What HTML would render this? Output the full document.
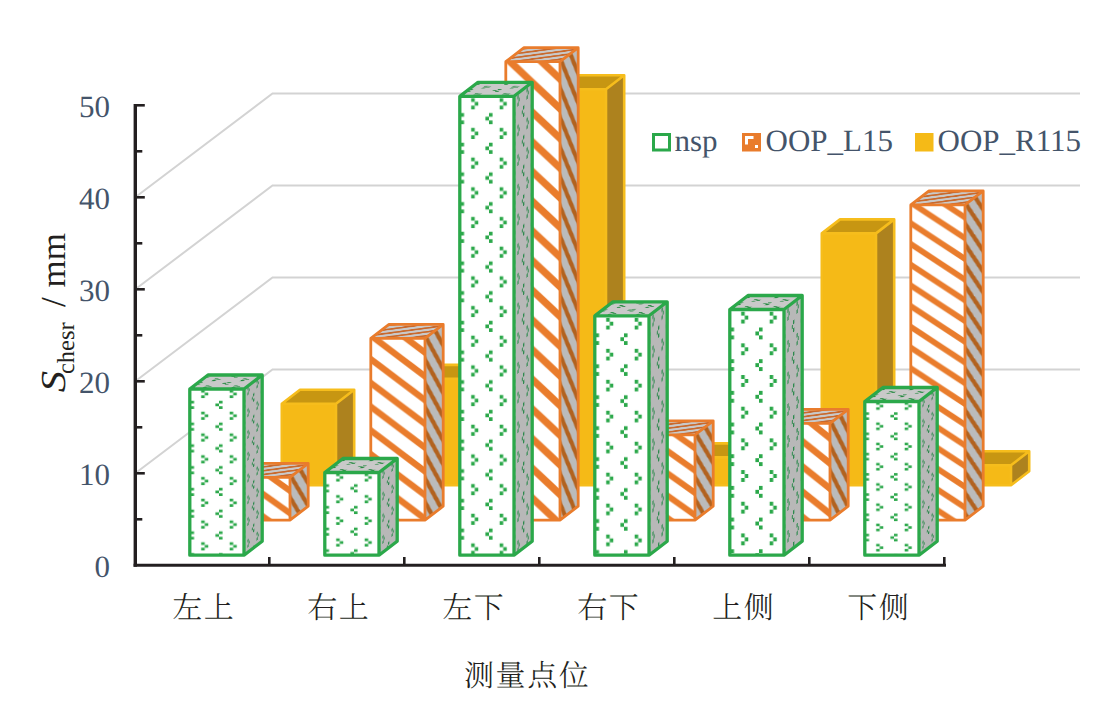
<!DOCTYPE html>
<html><head><meta charset="utf-8"><title>chart</title>
<style>html,body{margin:0;padding:0;background:#fff;width:1108px;height:706px;overflow:hidden}svg{display:block}text{text-rendering:geometricPrecision;-webkit-font-smoothing:antialiased}</style>
</head><body>
<svg width="1108" height="706" viewBox="0 0 1108 706"><defs><pattern id="p1_0f" patternUnits="userSpaceOnUse" width="8" height="8" patternTransform="matrix(3.94 0 0 2.81 236.8 479.1)"><rect width="8" height="8" fill="#FFFFFF"/><polygon points="-8,0 -5.3,0 2.7,8 0,8" fill="#E97C2C"/><polygon points="0,0 2.7,0 10.7,8 8,8" fill="#E97C2C"/></pattern><pattern id="p1_0s" patternUnits="userSpaceOnUse" width="8" height="8" patternTransform="matrix(1.14 -0.88 0 2.81 290 479.1)"><rect width="8" height="8" fill="#BBBBBB"/><polygon points="-8,0 -5,0 3,8 0,8" fill="#B2621F"/><polygon points="0,0 3,0 11,8 8,8" fill="#B2621F"/></pattern><pattern id="p1_0t" patternUnits="userSpaceOnUse" width="8" height="8" patternTransform="matrix(3.56 0 0.76 -0.58 236.5 477.3)"><rect width="8" height="8" fill="#C9C9C9"/><polygon points="-8,0 -4.4,0 3.6,8 0,8" fill="#C9692C"/><polygon points="0,0 3.6,0 11.6,8 8,8" fill="#C9692C"/></pattern><pattern id="p1_1f" patternUnits="userSpaceOnUse" width="8" height="8" patternTransform="matrix(3.94 0 0 2.97 371.8 340.2)"><rect width="8" height="8" fill="#FFFFFF"/><polygon points="-8,0 -5.3,0 2.7,8 0,8" fill="#E97C2C"/><polygon points="0,0 2.7,0 10.7,8 8,8" fill="#E97C2C"/></pattern><pattern id="p1_1s" patternUnits="userSpaceOnUse" width="8" height="8" patternTransform="matrix(1.14 -0.88 0 2.97 425 340.2)"><rect width="8" height="8" fill="#BBBBBB"/><polygon points="-8,0 -5,0 3,8 0,8" fill="#B2621F"/><polygon points="0,0 3,0 11,8 8,8" fill="#B2621F"/></pattern><pattern id="p1_1t" patternUnits="userSpaceOnUse" width="8" height="8" patternTransform="matrix(3.56 0 0.76 -0.58 371.5 338.4)"><rect width="8" height="8" fill="#C9C9C9"/><polygon points="-8,0 -4.4,0 3.6,8 0,8" fill="#C9692C"/><polygon points="0,0 3.6,0 11.6,8 8,8" fill="#C9692C"/></pattern><pattern id="p1_2f" patternUnits="userSpaceOnUse" width="8" height="8" patternTransform="matrix(3.94 0 0 3.71 506.8 63.5)"><rect width="8" height="8" fill="#FFFFFF"/><polygon points="-8,0 -5.3,0 2.7,8 0,8" fill="#E97C2C"/><polygon points="0,0 2.7,0 10.7,8 8,8" fill="#E97C2C"/></pattern><pattern id="p1_2s" patternUnits="userSpaceOnUse" width="8" height="8" patternTransform="matrix(1.14 -0.88 0 3.71 560 63.5)"><rect width="8" height="8" fill="#BBBBBB"/><polygon points="-8,0 -5,0 3,8 0,8" fill="#B2621F"/><polygon points="0,0 3,0 11,8 8,8" fill="#B2621F"/></pattern><pattern id="p1_2t" patternUnits="userSpaceOnUse" width="8" height="8" patternTransform="matrix(3.56 0 0.76 -0.58 506.5 61.7)"><rect width="8" height="8" fill="#C9C9C9"/><polygon points="-8,0 -4.4,0 3.6,8 0,8" fill="#C9692C"/><polygon points="0,0 3.6,0 11.6,8 8,8" fill="#C9692C"/></pattern><pattern id="p1_3f" patternUnits="userSpaceOnUse" width="8" height="8" patternTransform="matrix(3.94 0 0 2.79 641.8 436.6)"><rect width="8" height="8" fill="#FFFFFF"/><polygon points="-8,0 -5.3,0 2.7,8 0,8" fill="#E97C2C"/><polygon points="0,0 2.7,0 10.7,8 8,8" fill="#E97C2C"/></pattern><pattern id="p1_3s" patternUnits="userSpaceOnUse" width="8" height="8" patternTransform="matrix(1.14 -0.88 0 2.79 695 436.6)"><rect width="8" height="8" fill="#BBBBBB"/><polygon points="-8,0 -5,0 3,8 0,8" fill="#B2621F"/><polygon points="0,0 3,0 11,8 8,8" fill="#B2621F"/></pattern><pattern id="p1_3t" patternUnits="userSpaceOnUse" width="8" height="8" patternTransform="matrix(3.56 0 0.76 -0.58 641.5 434.8)"><rect width="8" height="8" fill="#C9C9C9"/><polygon points="-8,0 -4.4,0 3.6,8 0,8" fill="#C9692C"/><polygon points="0,0 3.6,0 11.6,8 8,8" fill="#C9692C"/></pattern><pattern id="p1_4f" patternUnits="userSpaceOnUse" width="8" height="8" patternTransform="matrix(3.94 0 0 3.15 776.8 425.1)"><rect width="8" height="8" fill="#FFFFFF"/><polygon points="-8,0 -5.3,0 2.7,8 0,8" fill="#E97C2C"/><polygon points="0,0 2.7,0 10.7,8 8,8" fill="#E97C2C"/></pattern><pattern id="p1_4s" patternUnits="userSpaceOnUse" width="8" height="8" patternTransform="matrix(1.14 -0.88 0 3.15 830 425.1)"><rect width="8" height="8" fill="#BBBBBB"/><polygon points="-8,0 -5,0 3,8 0,8" fill="#B2621F"/><polygon points="0,0 3,0 11,8 8,8" fill="#B2621F"/></pattern><pattern id="p1_4t" patternUnits="userSpaceOnUse" width="8" height="8" patternTransform="matrix(3.56 0 0.76 -0.58 776.5 423.3)"><rect width="8" height="8" fill="#C9C9C9"/><polygon points="-8,0 -4.4,0 3.6,8 0,8" fill="#C9692C"/><polygon points="0,0 3.6,0 11.6,8 8,8" fill="#C9692C"/></pattern><pattern id="p1_5f" patternUnits="userSpaceOnUse" width="8" height="8" patternTransform="matrix(3.94 0 0 2.59 911.8 206.7)"><rect width="8" height="8" fill="#FFFFFF"/><polygon points="-8,0 -5.3,0 2.7,8 0,8" fill="#E97C2C"/><polygon points="0,0 2.7,0 10.7,8 8,8" fill="#E97C2C"/></pattern><pattern id="p1_5s" patternUnits="userSpaceOnUse" width="8" height="8" patternTransform="matrix(1.14 -0.88 0 2.59 965 206.7)"><rect width="8" height="8" fill="#BBBBBB"/><polygon points="-8,0 -5,0 3,8 0,8" fill="#B2621F"/><polygon points="0,0 3,0 11,8 8,8" fill="#B2621F"/></pattern><pattern id="p1_5t" patternUnits="userSpaceOnUse" width="8" height="8" patternTransform="matrix(3.56 0 0.76 -0.58 911.5 204.9)"><rect width="8" height="8" fill="#C9C9C9"/><polygon points="-8,0 -4.4,0 3.6,8 0,8" fill="#C9692C"/><polygon points="0,0 3.6,0 11.6,8 8,8" fill="#C9692C"/></pattern><pattern id="p0_0f" patternUnits="userSpaceOnUse" width="8" height="8" patternTransform="matrix(3.56 0 0 2.72 190.5 387.2)"><rect width="8" height="8" fill="#FFFFFF"/><rect x="3" y="1" width="1" height="1" fill="#2BA84A"/><rect x="4" y="2" width="1" height="1" fill="#2BA84A"/><rect x="3" y="3" width="1" height="1" fill="#2BA84A"/><rect x="0" y="5" width="1" height="1" fill="#2BA84A"/><rect x="7" y="6" width="1" height="1" fill="#2BA84A"/><rect x="0" y="7" width="1" height="1" fill="#2BA84A"/></pattern><pattern id="p0_0s" patternUnits="userSpaceOnUse" width="8" height="8" patternTransform="matrix(1.14 -0.88 0 2.72 244 387.2)"><rect width="8" height="8" fill="#B8B8B8"/><rect x="3" y="1" width="1" height="1" fill="#2E8A4E"/><rect x="4" y="2" width="1" height="1" fill="#2E8A4E"/><rect x="3" y="3" width="1" height="1" fill="#2E8A4E"/><rect x="0" y="5" width="1" height="1" fill="#2E8A4E"/><rect x="7" y="6" width="1" height="1" fill="#2E8A4E"/><rect x="0" y="7" width="1" height="1" fill="#2E8A4E"/></pattern><pattern id="p0_0t" patternUnits="userSpaceOnUse" width="8" height="8" patternTransform="matrix(3.56 0 1.14 -0.88 190.5 389)"><rect width="8" height="8" fill="#C9C9C9"/><rect x="3" y="1" width="1" height="1" fill="#23893F"/><rect x="4" y="2" width="1" height="1" fill="#23893F"/><rect x="3" y="3" width="1" height="1" fill="#23893F"/><rect x="0" y="5" width="1" height="1" fill="#23893F"/><rect x="7" y="6" width="1" height="1" fill="#23893F"/><rect x="0" y="7" width="1" height="1" fill="#23893F"/></pattern><pattern id="p0_1f" patternUnits="userSpaceOnUse" width="8" height="8" patternTransform="matrix(3.56 0 0 2.71 325.5 470.7)"><rect width="8" height="8" fill="#FFFFFF"/><rect x="3" y="1" width="1" height="1" fill="#2BA84A"/><rect x="4" y="2" width="1" height="1" fill="#2BA84A"/><rect x="3" y="3" width="1" height="1" fill="#2BA84A"/><rect x="0" y="5" width="1" height="1" fill="#2BA84A"/><rect x="7" y="6" width="1" height="1" fill="#2BA84A"/><rect x="0" y="7" width="1" height="1" fill="#2BA84A"/></pattern><pattern id="p0_1s" patternUnits="userSpaceOnUse" width="8" height="8" patternTransform="matrix(1.14 -0.88 0 2.71 379 470.7)"><rect width="8" height="8" fill="#B8B8B8"/><rect x="3" y="1" width="1" height="1" fill="#2E8A4E"/><rect x="4" y="2" width="1" height="1" fill="#2E8A4E"/><rect x="3" y="3" width="1" height="1" fill="#2E8A4E"/><rect x="0" y="5" width="1" height="1" fill="#2E8A4E"/><rect x="7" y="6" width="1" height="1" fill="#2E8A4E"/><rect x="0" y="7" width="1" height="1" fill="#2E8A4E"/></pattern><pattern id="p0_1t" patternUnits="userSpaceOnUse" width="8" height="8" patternTransform="matrix(3.56 0 1.14 -0.88 325.5 472.5)"><rect width="8" height="8" fill="#C9C9C9"/><rect x="3" y="1" width="1" height="1" fill="#23893F"/><rect x="4" y="2" width="1" height="1" fill="#23893F"/><rect x="3" y="3" width="1" height="1" fill="#23893F"/><rect x="0" y="5" width="1" height="1" fill="#23893F"/><rect x="7" y="6" width="1" height="1" fill="#23893F"/><rect x="0" y="7" width="1" height="1" fill="#23893F"/></pattern><pattern id="p0_2f" patternUnits="userSpaceOnUse" width="8" height="8" patternTransform="matrix(3.56 0 0 3.71 460.5 94.5)"><rect width="8" height="8" fill="#FFFFFF"/><rect x="3" y="1" width="1" height="1" fill="#2BA84A"/><rect x="4" y="2" width="1" height="1" fill="#2BA84A"/><rect x="3" y="3" width="1" height="1" fill="#2BA84A"/><rect x="0" y="5" width="1" height="1" fill="#2BA84A"/><rect x="7" y="6" width="1" height="1" fill="#2BA84A"/><rect x="0" y="7" width="1" height="1" fill="#2BA84A"/></pattern><pattern id="p0_2s" patternUnits="userSpaceOnUse" width="8" height="8" patternTransform="matrix(1.14 -0.88 0 3.71 514 94.5)"><rect width="8" height="8" fill="#B8B8B8"/><rect x="3" y="1" width="1" height="1" fill="#2E8A4E"/><rect x="4" y="2" width="1" height="1" fill="#2E8A4E"/><rect x="3" y="3" width="1" height="1" fill="#2E8A4E"/><rect x="0" y="5" width="1" height="1" fill="#2E8A4E"/><rect x="7" y="6" width="1" height="1" fill="#2E8A4E"/><rect x="0" y="7" width="1" height="1" fill="#2E8A4E"/></pattern><pattern id="p0_2t" patternUnits="userSpaceOnUse" width="8" height="8" patternTransform="matrix(3.56 0 1.14 -0.88 460.5 96.3)"><rect width="8" height="8" fill="#C9C9C9"/><rect x="3" y="1" width="1" height="1" fill="#23893F"/><rect x="4" y="2" width="1" height="1" fill="#23893F"/><rect x="3" y="3" width="1" height="1" fill="#23893F"/><rect x="0" y="5" width="1" height="1" fill="#23893F"/><rect x="7" y="6" width="1" height="1" fill="#23893F"/><rect x="0" y="7" width="1" height="1" fill="#23893F"/></pattern><pattern id="p0_3f" patternUnits="userSpaceOnUse" width="8" height="8" patternTransform="matrix(3.56 0 0 3.87 595.5 314)"><rect width="8" height="8" fill="#FFFFFF"/><rect x="3" y="1" width="1" height="1" fill="#2BA84A"/><rect x="4" y="2" width="1" height="1" fill="#2BA84A"/><rect x="3" y="3" width="1" height="1" fill="#2BA84A"/><rect x="0" y="5" width="1" height="1" fill="#2BA84A"/><rect x="7" y="6" width="1" height="1" fill="#2BA84A"/><rect x="0" y="7" width="1" height="1" fill="#2BA84A"/></pattern><pattern id="p0_3s" patternUnits="userSpaceOnUse" width="8" height="8" patternTransform="matrix(1.14 -0.88 0 3.87 649 314)"><rect width="8" height="8" fill="#B8B8B8"/><rect x="3" y="1" width="1" height="1" fill="#2E8A4E"/><rect x="4" y="2" width="1" height="1" fill="#2E8A4E"/><rect x="3" y="3" width="1" height="1" fill="#2E8A4E"/><rect x="0" y="5" width="1" height="1" fill="#2E8A4E"/><rect x="7" y="6" width="1" height="1" fill="#2E8A4E"/><rect x="0" y="7" width="1" height="1" fill="#2E8A4E"/></pattern><pattern id="p0_3t" patternUnits="userSpaceOnUse" width="8" height="8" patternTransform="matrix(3.56 0 1.14 -0.88 595.5 315.8)"><rect width="8" height="8" fill="#C9C9C9"/><rect x="3" y="1" width="1" height="1" fill="#23893F"/><rect x="4" y="2" width="1" height="1" fill="#23893F"/><rect x="3" y="3" width="1" height="1" fill="#23893F"/><rect x="0" y="5" width="1" height="1" fill="#23893F"/><rect x="7" y="6" width="1" height="1" fill="#23893F"/><rect x="0" y="7" width="1" height="1" fill="#23893F"/></pattern><pattern id="p0_4f" patternUnits="userSpaceOnUse" width="8" height="8" patternTransform="matrix(3.56 0 0 3.96 730.5 307.7)"><rect width="8" height="8" fill="#FFFFFF"/><rect x="3" y="1" width="1" height="1" fill="#2BA84A"/><rect x="4" y="2" width="1" height="1" fill="#2BA84A"/><rect x="3" y="3" width="1" height="1" fill="#2BA84A"/><rect x="0" y="5" width="1" height="1" fill="#2BA84A"/><rect x="7" y="6" width="1" height="1" fill="#2BA84A"/><rect x="0" y="7" width="1" height="1" fill="#2BA84A"/></pattern><pattern id="p0_4s" patternUnits="userSpaceOnUse" width="8" height="8" patternTransform="matrix(1.14 -0.88 0 3.96 784 307.7)"><rect width="8" height="8" fill="#B8B8B8"/><rect x="3" y="1" width="1" height="1" fill="#2E8A4E"/><rect x="4" y="2" width="1" height="1" fill="#2E8A4E"/><rect x="3" y="3" width="1" height="1" fill="#2E8A4E"/><rect x="0" y="5" width="1" height="1" fill="#2E8A4E"/><rect x="7" y="6" width="1" height="1" fill="#2E8A4E"/><rect x="0" y="7" width="1" height="1" fill="#2E8A4E"/></pattern><pattern id="p0_4t" patternUnits="userSpaceOnUse" width="8" height="8" patternTransform="matrix(3.56 0 1.14 -0.88 730.5 309.5)"><rect width="8" height="8" fill="#C9C9C9"/><rect x="3" y="1" width="1" height="1" fill="#23893F"/><rect x="4" y="2" width="1" height="1" fill="#23893F"/><rect x="3" y="3" width="1" height="1" fill="#23893F"/><rect x="0" y="5" width="1" height="1" fill="#23893F"/><rect x="7" y="6" width="1" height="1" fill="#23893F"/><rect x="0" y="7" width="1" height="1" fill="#23893F"/></pattern><pattern id="p0_5f" patternUnits="userSpaceOnUse" width="8" height="8" patternTransform="matrix(3.56 0 0 2.53 865.5 399.7)"><rect width="8" height="8" fill="#FFFFFF"/><rect x="3" y="1" width="1" height="1" fill="#2BA84A"/><rect x="4" y="2" width="1" height="1" fill="#2BA84A"/><rect x="3" y="3" width="1" height="1" fill="#2BA84A"/><rect x="0" y="5" width="1" height="1" fill="#2BA84A"/><rect x="7" y="6" width="1" height="1" fill="#2BA84A"/><rect x="0" y="7" width="1" height="1" fill="#2BA84A"/></pattern><pattern id="p0_5s" patternUnits="userSpaceOnUse" width="8" height="8" patternTransform="matrix(1.14 -0.88 0 2.53 919 399.7)"><rect width="8" height="8" fill="#B8B8B8"/><rect x="3" y="1" width="1" height="1" fill="#2E8A4E"/><rect x="4" y="2" width="1" height="1" fill="#2E8A4E"/><rect x="3" y="3" width="1" height="1" fill="#2E8A4E"/><rect x="0" y="5" width="1" height="1" fill="#2E8A4E"/><rect x="7" y="6" width="1" height="1" fill="#2E8A4E"/><rect x="0" y="7" width="1" height="1" fill="#2E8A4E"/></pattern><pattern id="p0_5t" patternUnits="userSpaceOnUse" width="8" height="8" patternTransform="matrix(3.56 0 1.14 -0.88 865.5 401.5)"><rect width="8" height="8" fill="#C9C9C9"/><rect x="3" y="1" width="1" height="1" fill="#23893F"/><rect x="4" y="2" width="1" height="1" fill="#23893F"/><rect x="3" y="3" width="1" height="1" fill="#23893F"/><rect x="0" y="5" width="1" height="1" fill="#23893F"/><rect x="7" y="6" width="1" height="1" fill="#23893F"/><rect x="0" y="7" width="1" height="1" fill="#23893F"/></pattern></defs><rect width="1108" height="706" fill="#fff"/><polyline points="135.3,473.3 272.5,369.5 1080,369.5" fill="none" stroke="#D3D3D3" stroke-width="2"/>
<polyline points="135.3,381.3 272.5,277.5 1080,277.5" fill="none" stroke="#D3D3D3" stroke-width="2"/>
<polyline points="135.3,289.3 272.5,185.5 1080,185.5" fill="none" stroke="#D3D3D3" stroke-width="2"/>
<polyline points="135.3,197.3 272.5,93.5 1080,93.5" fill="none" stroke="#D3D3D3" stroke-width="2"/>
<polygon points="281.8,403.8 336,403.8 354.2,389.8 300,389.8" fill="#C79612"/><polygon points="336,403.8 354.2,389.8 354.2,471.2 336,485.2" fill="#AD821E"/><polygon points="281.8,403.8 336,403.8 336,485.2 281.8,485.2" fill="#F5BA17"/><path d="M281.8,403.8 H336 V485.2 H281.8 Z M281.8,403.8 L300,389.8 L354.2,389.8 L354.2,471.2 L336,485.2 M336,403.8 L354.2,389.8" fill="none" stroke="#F6BD1C" stroke-width="2.6" stroke-linejoin="round"/>
<polygon points="416.8,378.9 471,378.9 489.2,364.9 435,364.9" fill="#C79612"/><polygon points="471,378.9 489.2,364.9 489.2,471.2 471,485.2" fill="#AD821E"/><polygon points="416.8,378.9 471,378.9 471,485.2 416.8,485.2" fill="#F5BA17"/><path d="M416.8,378.9 H471 V485.2 H416.8 Z M416.8,378.9 L435,364.9 L489.2,364.9 L489.2,471.2 L471,485.2 M471,378.9 L489.2,364.9" fill="none" stroke="#F6BD1C" stroke-width="2.6" stroke-linejoin="round"/>
<polygon points="551.8,89.2 606,89.2 624.2,75.2 570,75.2" fill="#C79612"/><polygon points="606,89.2 624.2,75.2 624.2,471.2 606,485.2" fill="#AD821E"/><polygon points="551.8,89.2 606,89.2 606,485.2 551.8,485.2" fill="#F5BA17"/><path d="M551.8,89.2 H606 V485.2 H551.8 Z M551.8,89.2 L570,75.2 L624.2,75.2 L624.2,471.2 L606,485.2 M606,89.2 L624.2,75.2" fill="none" stroke="#F6BD1C" stroke-width="2.6" stroke-linejoin="round"/>
<polygon points="686.8,457.4 741,457.4 759.2,443.4 705,443.4" fill="#C79612"/><polygon points="741,457.4 759.2,443.4 759.2,471.2 741,485.2" fill="#AD821E"/><polygon points="686.8,457.4 741,457.4 741,485.2 686.8,485.2" fill="#F5BA17"/><path d="M686.8,457.4 H741 V485.2 H686.8 Z M686.8,457.4 L705,443.4 L759.2,443.4 L759.2,471.2 L741,485.2 M741,457.4 L759.2,443.4" fill="none" stroke="#F6BD1C" stroke-width="2.6" stroke-linejoin="round"/>
<polygon points="821.8,233.4 876,233.4 894.2,219.4 840,219.4" fill="#C79612"/><polygon points="876,233.4 894.2,219.4 894.2,471.2 876,485.2" fill="#AD821E"/><polygon points="821.8,233.4 876,233.4 876,485.2 821.8,485.2" fill="#F5BA17"/><path d="M821.8,233.4 H876 V485.2 H821.8 Z M821.8,233.4 L840,219.4 L894.2,219.4 L894.2,471.2 L876,485.2 M876,233.4 L894.2,219.4" fill="none" stroke="#F6BD1C" stroke-width="2.6" stroke-linejoin="round"/>
<polygon points="956.8,465.2 1011,465.2 1029.2,451.2 975,451.2" fill="#C79612"/><polygon points="1011,465.2 1029.2,451.2 1029.2,471.2 1011,485.2" fill="#AD821E"/><polygon points="956.8,465.2 1011,465.2 1011,485.2 956.8,485.2" fill="#F5BA17"/><path d="M956.8,465.2 H1011 V485.2 H956.8 Z M956.8,465.2 L975,451.2 L1029.2,451.2 L1029.2,471.2 L1011,485.2 M1011,465.2 L1029.2,451.2" fill="none" stroke="#F6BD1C" stroke-width="2.6" stroke-linejoin="round"/>
<polygon points="235.8,477.3 290,477.3 308.2,463.3 254,463.3" fill="url(#p1_0t)"/><polygon points="290,477.3 308.2,463.3 308.2,506.2 290,520.2" fill="url(#p1_0s)"/><polygon points="235.8,477.3 290,477.3 290,520.2 235.8,520.2" fill="url(#p1_0f)"/><path d="M235.8,477.3 H290 V520.2 H235.8 Z M235.8,477.3 L254,463.3 L308.2,463.3 L308.2,506.2 L290,520.2 M290,477.3 L308.2,463.3" fill="none" stroke="#E97C2C" stroke-width="2.8" stroke-linejoin="round"/>
<polygon points="370.8,338.4 425,338.4 443.2,324.4 389,324.4" fill="url(#p1_1t)"/><polygon points="425,338.4 443.2,324.4 443.2,506.2 425,520.2" fill="url(#p1_1s)"/><polygon points="370.8,338.4 425,338.4 425,520.2 370.8,520.2" fill="url(#p1_1f)"/><path d="M370.8,338.4 H425 V520.2 H370.8 Z M370.8,338.4 L389,324.4 L443.2,324.4 L443.2,506.2 L425,520.2 M425,338.4 L443.2,324.4" fill="none" stroke="#E97C2C" stroke-width="2.8" stroke-linejoin="round"/>
<polygon points="505.8,61.7 560,61.7 578.2,47.7 524,47.7" fill="url(#p1_2t)"/><polygon points="560,61.7 578.2,47.7 578.2,506.2 560,520.2" fill="url(#p1_2s)"/><polygon points="505.8,61.7 560,61.7 560,520.2 505.8,520.2" fill="url(#p1_2f)"/><path d="M505.8,61.7 H560 V520.2 H505.8 Z M505.8,61.7 L524,47.7 L578.2,47.7 L578.2,506.2 L560,520.2 M560,61.7 L578.2,47.7" fill="none" stroke="#E97C2C" stroke-width="2.8" stroke-linejoin="round"/>
<polygon points="640.8,434.8 695,434.8 713.2,420.8 659,420.8" fill="url(#p1_3t)"/><polygon points="695,434.8 713.2,420.8 713.2,506.2 695,520.2" fill="url(#p1_3s)"/><polygon points="640.8,434.8 695,434.8 695,520.2 640.8,520.2" fill="url(#p1_3f)"/><path d="M640.8,434.8 H695 V520.2 H640.8 Z M640.8,434.8 L659,420.8 L713.2,420.8 L713.2,506.2 L695,520.2 M695,434.8 L713.2,420.8" fill="none" stroke="#E97C2C" stroke-width="2.8" stroke-linejoin="round"/>
<polygon points="775.8,423.3 830,423.3 848.2,409.3 794,409.3" fill="url(#p1_4t)"/><polygon points="830,423.3 848.2,409.3 848.2,506.2 830,520.2" fill="url(#p1_4s)"/><polygon points="775.8,423.3 830,423.3 830,520.2 775.8,520.2" fill="url(#p1_4f)"/><path d="M775.8,423.3 H830 V520.2 H775.8 Z M775.8,423.3 L794,409.3 L848.2,409.3 L848.2,506.2 L830,520.2 M830,423.3 L848.2,409.3" fill="none" stroke="#E97C2C" stroke-width="2.8" stroke-linejoin="round"/>
<polygon points="910.8,204.9 965,204.9 983.2,190.9 929,190.9" fill="url(#p1_5t)"/><polygon points="965,204.9 983.2,190.9 983.2,506.2 965,520.2" fill="url(#p1_5s)"/><polygon points="910.8,204.9 965,204.9 965,520.2 910.8,520.2" fill="url(#p1_5f)"/><path d="M910.8,204.9 H965 V520.2 H910.8 Z M910.8,204.9 L929,190.9 L983.2,190.9 L983.2,506.2 L965,520.2 M965,204.9 L983.2,190.9" fill="none" stroke="#E97C2C" stroke-width="2.8" stroke-linejoin="round"/>
<polygon points="189.8,389 244,389 262.2,375 208,375" fill="url(#p0_0t)"/><polygon points="244,389 262.2,375 262.2,541.2 244,555.2" fill="url(#p0_0s)"/><polygon points="189.8,389 244,389 244,555.2 189.8,555.2" fill="url(#p0_0f)"/><path d="M189.8,389 H244 V555.2 H189.8 Z M189.8,389 L208,375 L262.2,375 L262.2,541.2 L244,555.2 M244,389 L262.2,375" fill="none" stroke="#2BA84A" stroke-width="3.3" stroke-linejoin="round"/>
<polygon points="324.8,472.5 379,472.5 397.2,458.5 343,458.5" fill="url(#p0_1t)"/><polygon points="379,472.5 397.2,458.5 397.2,541.2 379,555.2" fill="url(#p0_1s)"/><polygon points="324.8,472.5 379,472.5 379,555.2 324.8,555.2" fill="url(#p0_1f)"/><path d="M324.8,472.5 H379 V555.2 H324.8 Z M324.8,472.5 L343,458.5 L397.2,458.5 L397.2,541.2 L379,555.2 M379,472.5 L397.2,458.5" fill="none" stroke="#2BA84A" stroke-width="3.3" stroke-linejoin="round"/>
<polygon points="459.8,96.3 514,96.3 532.2,82.3 478,82.3" fill="url(#p0_2t)"/><polygon points="514,96.3 532.2,82.3 532.2,541.2 514,555.2" fill="url(#p0_2s)"/><polygon points="459.8,96.3 514,96.3 514,555.2 459.8,555.2" fill="url(#p0_2f)"/><path d="M459.8,96.3 H514 V555.2 H459.8 Z M459.8,96.3 L478,82.3 L532.2,82.3 L532.2,541.2 L514,555.2 M514,96.3 L532.2,82.3" fill="none" stroke="#2BA84A" stroke-width="3.3" stroke-linejoin="round"/>
<polygon points="594.8,315.8 649,315.8 667.2,301.8 613,301.8" fill="url(#p0_3t)"/><polygon points="649,315.8 667.2,301.8 667.2,541.2 649,555.2" fill="url(#p0_3s)"/><polygon points="594.8,315.8 649,315.8 649,555.2 594.8,555.2" fill="url(#p0_3f)"/><path d="M594.8,315.8 H649 V555.2 H594.8 Z M594.8,315.8 L613,301.8 L667.2,301.8 L667.2,541.2 L649,555.2 M649,315.8 L667.2,301.8" fill="none" stroke="#2BA84A" stroke-width="3.3" stroke-linejoin="round"/>
<polygon points="729.8,309.5 784,309.5 802.2,295.5 748,295.5" fill="url(#p0_4t)"/><polygon points="784,309.5 802.2,295.5 802.2,541.2 784,555.2" fill="url(#p0_4s)"/><polygon points="729.8,309.5 784,309.5 784,555.2 729.8,555.2" fill="url(#p0_4f)"/><path d="M729.8,309.5 H784 V555.2 H729.8 Z M729.8,309.5 L748,295.5 L802.2,295.5 L802.2,541.2 L784,555.2 M784,309.5 L802.2,295.5" fill="none" stroke="#2BA84A" stroke-width="3.3" stroke-linejoin="round"/>
<polygon points="864.8,401.5 919,401.5 937.2,387.5 883,387.5" fill="url(#p0_5t)"/><polygon points="919,401.5 937.2,387.5 937.2,541.2 919,555.2" fill="url(#p0_5s)"/><polygon points="864.8,401.5 919,401.5 919,555.2 864.8,555.2" fill="url(#p0_5f)"/><path d="M864.8,401.5 H919 V555.2 H864.8 Z M864.8,401.5 L883,387.5 L937.2,387.5 L937.2,541.2 L919,555.2 M919,401.5 L937.2,387.5" fill="none" stroke="#2BA84A" stroke-width="3.3" stroke-linejoin="round"/>
<line x1="135.3" y1="104" x2="135.3" y2="566.8" stroke="#231F20" stroke-width="3.4"/>
<line x1="135.3" y1="519.3" x2="142.3" y2="519.3" stroke="#231F20" stroke-width="2.6"/>
<line x1="135.3" y1="473.3" x2="144.8" y2="473.3" stroke="#231F20" stroke-width="2.6"/>
<line x1="135.3" y1="427.3" x2="142.3" y2="427.3" stroke="#231F20" stroke-width="2.6"/>
<line x1="135.3" y1="381.3" x2="144.8" y2="381.3" stroke="#231F20" stroke-width="2.6"/>
<line x1="135.3" y1="335.3" x2="142.3" y2="335.3" stroke="#231F20" stroke-width="2.6"/>
<line x1="135.3" y1="289.3" x2="144.8" y2="289.3" stroke="#231F20" stroke-width="2.6"/>
<line x1="135.3" y1="243.3" x2="142.3" y2="243.3" stroke="#231F20" stroke-width="2.6"/>
<line x1="135.3" y1="197.3" x2="144.8" y2="197.3" stroke="#231F20" stroke-width="2.6"/>
<line x1="135.3" y1="151.3" x2="142.3" y2="151.3" stroke="#231F20" stroke-width="2.6"/>
<line x1="135.3" y1="105.3" x2="144.8" y2="105.3" stroke="#231F20" stroke-width="2.6"/>
<line x1="133.6" y1="565.3" x2="946" y2="565.3" stroke="#231F20" stroke-width="3"/>
<line x1="269.3" y1="557" x2="269.3" y2="565.3" stroke="#231F20" stroke-width="2.6"/>
<line x1="404.3" y1="557" x2="404.3" y2="565.3" stroke="#231F20" stroke-width="2.6"/>
<line x1="539.3" y1="557" x2="539.3" y2="565.3" stroke="#231F20" stroke-width="2.6"/>
<line x1="674.3" y1="557" x2="674.3" y2="565.3" stroke="#231F20" stroke-width="2.6"/>
<line x1="809.3" y1="557" x2="809.3" y2="565.3" stroke="#231F20" stroke-width="2.6"/>
<line x1="944.3" y1="557" x2="944.3" y2="565.3" stroke="#231F20" stroke-width="2.6"/>
<text x="110" y="576.6" text-anchor="end" font-family="'Liberation Serif', 'Times New Roman', serif" font-size="31" fill="#44546A">0</text>
<text x="110" y="484.6" text-anchor="end" font-family="'Liberation Serif', 'Times New Roman', serif" font-size="31" fill="#44546A">10</text>
<text x="110" y="392.6" text-anchor="end" font-family="'Liberation Serif', 'Times New Roman', serif" font-size="31" fill="#44546A">20</text>
<text x="110" y="300.6" text-anchor="end" font-family="'Liberation Serif', 'Times New Roman', serif" font-size="31" fill="#44546A">30</text>
<text x="110" y="208.6" text-anchor="end" font-family="'Liberation Serif', 'Times New Roman', serif" font-size="31" fill="#44546A">40</text>
<text x="110" y="116.6" text-anchor="end" font-family="'Liberation Serif', 'Times New Roman', serif" font-size="31" fill="#44546A">50</text>
<text x="203.8" y="618" text-anchor="middle" font-family="'Liberation Serif', 'Noto Serif CJK SC', serif" font-weight="300" font-size="30" letter-spacing="1.6" fill="#231F20">左上</text>
<text x="338.8" y="618" text-anchor="middle" font-family="'Liberation Serif', 'Noto Serif CJK SC', serif" font-weight="300" font-size="30" letter-spacing="1.6" fill="#231F20">右上</text>
<text x="473.8" y="618" text-anchor="middle" font-family="'Liberation Serif', 'Noto Serif CJK SC', serif" font-weight="300" font-size="30" letter-spacing="1.6" fill="#231F20">左下</text>
<text x="608.8" y="618" text-anchor="middle" font-family="'Liberation Serif', 'Noto Serif CJK SC', serif" font-weight="300" font-size="30" letter-spacing="1.6" fill="#231F20">右下</text>
<text x="743.8" y="618" text-anchor="middle" font-family="'Liberation Serif', 'Noto Serif CJK SC', serif" font-weight="300" font-size="30" letter-spacing="1.6" fill="#231F20">上侧</text>
<text x="878.8" y="618" text-anchor="middle" font-family="'Liberation Serif', 'Noto Serif CJK SC', serif" font-weight="300" font-size="30" letter-spacing="1.6" fill="#231F20">下侧</text>
<text x="527.2" y="685.8" text-anchor="middle" font-family="'Liberation Serif', 'Noto Serif CJK SC', serif" font-weight="300" font-size="30" letter-spacing="1.6" fill="#231F20">测量点位</text>
<text transform="translate(64.8,392.2) rotate(-90) scale(1.22,1)" font-family="'Liberation Serif', 'Times New Roman', serif" font-size="35" font-style="italic" fill="#231F20">S</text>
<text transform="translate(74.3,374) rotate(-90)" font-family="'Liberation Serif', 'Times New Roman', serif" font-size="24.5" fill="#231F20">chesr</text>
<text transform="translate(65.3,307) rotate(-90)" font-family="'Liberation Serif', 'Times New Roman', serif" font-size="35" fill="#231F20">/</text>
<text transform="translate(65.3,287.5) rotate(-90)" font-family="'Liberation Serif', 'Times New Roman', serif" font-size="35" fill="#231F20">mm</text>
<rect x="653.5" y="134.5" width="16" height="15.5" fill="#fff" stroke="#2BA84A" stroke-width="3"/>
<text x="674.5" y="151.3" font-family="'Liberation Serif', 'Times New Roman', serif" font-size="31" fill="#44546A">nsp</text>
<rect x="742" y="133" width="19" height="18.5" fill="#E97C2C"/>
<polygon points="745,136 753.5,136 753.5,139 748,139 748,144.5 745,144.5" fill="#fff"/>
<rect x="755" y="145" width="3" height="3" fill="#fff"/>
<text x="765.5" y="151.3" font-family="'Liberation Serif', 'Times New Roman', serif" font-size="31" fill="#44546A">OOP_L15</text>
<rect x="915" y="133" width="18.5" height="18.5" fill="#F5BA17"/>
<text x="937.5" y="151.3" font-family="'Liberation Serif', 'Times New Roman', serif" font-size="31" fill="#44546A">OOP_R115</text></svg>
</body></html>
